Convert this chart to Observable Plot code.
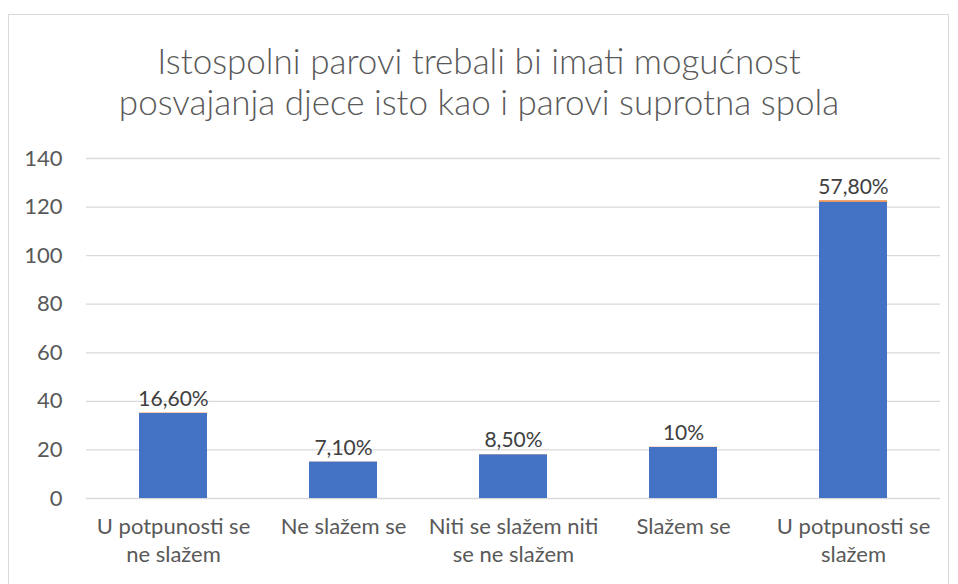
<!DOCTYPE html>
<html>
<head>
<meta charset="utf-8">
<script src="https://cdn.jsdelivr.net/npm/d3@7"></script>
<script src="https://cdn.jsdelivr.net/npm/@observablehq/plot@0.6"></script>
<style>
  html, body { margin: 0; padding: 0; background: #fff; }
  body { width: 958px; height: 584px; position: relative; overflow: hidden; font-family: Lato, "Open Sans", sans-serif; }
  #frame { position: absolute; left: 8px; top: 14px; width: 941px; height: 600px; border: 1px solid #d9d9d9; box-sizing: border-box; }
  #title { position: absolute; left: 0; top: 40px; width: 958px; text-align: center; font-size: 35px; font-weight: 300; line-height: 41px; color: #595959; }
  #chart { position: absolute; left: 0; top: 140px; }
</style>
</head>
<body>
<div id="frame"></div>
<div id="title">Istospolni parovi trebali bi imati mogućnost<br>posvajanja djece isto kao i parovi suprotna spola</div>
<div id="chart"></div>
<script>
const categories = ["U potpunosti se ne slažem", "Ne slažem se", "Niti se slažem niti se ne slažem", "Slažem se", "U potpunosti se slažem"];
const tickLabels = ["U potpunosti se\nne slažem", "Ne slažem se", "Niti se slažem niti\nse ne slažem", "Slažem se", "U potpunosti se\nslažem"];
const counts = [35, 15, 18, 21, 122];
const shares = [0.166, 0.071, 0.085, 0.10, 0.578];
const shareLabels = ["16,60%", "7,10%", "8,50%", "10%", "57,80%"];
const yTicks = [0, 20, 40, 60, 80, 100, 120, 140];

const rows = [];
categories.forEach((c, i) => {
  rows.push({cat: c, series: "Broj", value: counts[i]});
  rows.push({cat: c, series: "Postotak", value: shares[i]});
});
const labelRows = categories.map((c, i) => ({cat: c, top: counts[i] + shares[i], label: shareLabels[i]}));
const tickMap = new Map(categories.map((c, i) => [c, tickLabels[i]]));

const chart = Plot.plot({
  width: 958,
  height: 444,
  marginTop: 18,
  marginBottom: 86,
  marginLeft: 86,
  marginRight: 18,
  style: {fontFamily: "Lato, 'Open Sans', sans-serif", fontSize: "22px", color: "#595959", background: "transparent"},
  x: {domain: categories, paddingInner: 0.6, paddingOuter: 0.3, label: null},
  y: {domain: [0, 140], ticks: yTicks, label: null},
  color: {domain: ["Broj", "Postotak"], range: ["#4472C4", "#ED7D31"]},
  marks: [
    Plot.gridY(yTicks, {stroke: "#d9d9d9", strokeOpacity: 1, strokeWidth: 1.3}),
    Plot.axisY(yTicks, {tickSize: 0, tickPadding: 24, fontSize: 22, fill: "#595959", label: null}),
    Plot.axisX({tickSize: 0, tickPadding: 16, fontSize: 22, fill: "#595959", lineHeight: 1.27, tickFormat: d => tickMap.get(d), textAnchor: "middle", label: null}),
    Plot.barY(rows, {x: "cat", y: "value", fill: "series", order: ["Broj", "Postotak"], inset: 0}),
    Plot.text(labelRows, {x: "cat", y: "top", text: "label", dy: -14, fontSize: 21, fill: "#404040"})
  ]
});
document.getElementById("chart").appendChild(chart);
</script>
</body>
</html>
